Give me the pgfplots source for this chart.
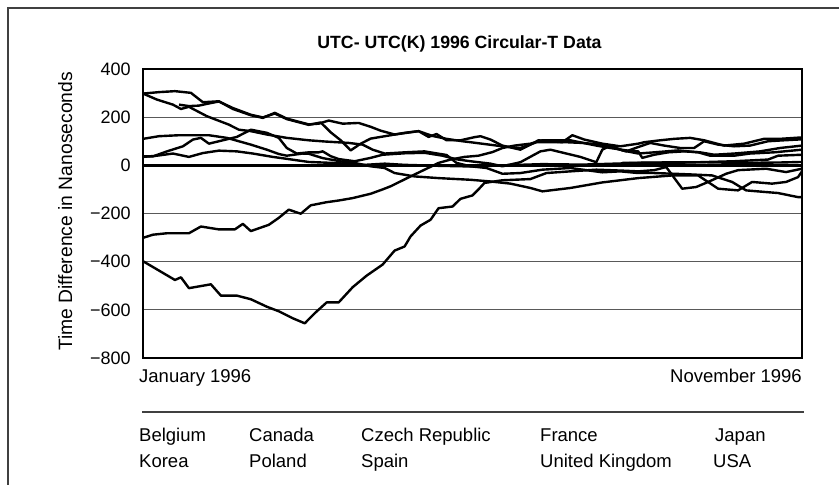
\documentclass[border=0pt]{standalone}
\usepackage{fontspec}
\setmainfont{Liberation Sans}
\usepackage{pgfplots}
\pgfplotsset{compat=1.18}
\begin{document}
\fontsize{18.5bp}{21bp}\selectfont
\begin{tikzpicture}
\useasboundingbox (0bp,0bp) rectangle (839bp,485bp);
\draw[line width=1.2bp, black!75] (8bp,0bp) -- (8bp,477bp) -- (839bp,477bp);
\begin{axis}[
 at={(143bp,127bp)}, anchor=south west,
 scale only axis, width=659bp, height=289bp,
 xmin=0, xmax=330, ymin=-800, ymax=400,
 xtick=\empty,
 ytick={-800,-600,-400,-200,0,200,400},
 yticklabels={−800,−600,−400,−200,0,200,400},
 major tick length=0pt,
 yticklabel style={font=\fontsize{18bp}{21bp}\selectfont, xshift=-6bp},
 ymajorgrids, grid style={line width=1.3bp, black!65},
 axis line style={line width=2.5bp},
 every axis plot post/.append style={black, solid, line width=2.4bp, line join=round, mark=none},
]
% zero line
\addplot coordinates {(0,0) (330,0)};
% series 1
\addplot table {
0 298
8 304
16 308
24 301
30 262
38 266
45 234
54 208
60 197
66 218
72 194
83 170
88 173
93 186
100 173
108 176
114 160
119 144
126 128
138 142
143 118
147 130
152 104
159 104
166 117
169 121
174 107
180 82
189 65
195 90
198 104
204 100
210 96
215 125
221 107
230 90
239 79
248 90
251 96
259 104
266 110
274 114
281 104
291 82
301 90
311 110
319 110
330 116
};
% series 2
\addplot table {
0 298
7 273
15 252
19 234
23 243
32 204
43 169
48 148
54 142
62 128
72 114
83 104
91 99
103 93
110 86
115 65
121 49
131 54
141 58
146 51
152 43
157 10
164 -4
172 -11
180 -35
189 -32
200 -18
214 -11
230 -29
239 -25
248 -32
256 -32
266 -35
275 -38
285 -42
295 -69
302 -104
312 -111
318 -115
328 -132
330 -132
};
% series 3
\addplot table {
0 110
8 121
18 125
33 125
42 114
48 100
54 86
62 65
68 47
72 40
80 49
83 48
90 30
100 15
106 10
114 -4
121 -11
126 -32
136 -46
148 -53
164 -60
174 -67
184 -76
194 -94
200 -108
214 -94
230 -71
248 -53
265 -42
278 -42
288 -97
298 -104
305 -69
315 -76
322 -69
328 -49
330 -25
};
% series 4
\addplot table {
0 37
5 37
12 58
20 79
25 107
29 114
33 90
38 100
47 118
54 148
62 135
68 114
72 72
77 49
83 54
88 54
90 58
94 38
98 26
106 17
114 31
120 44
131 50
141 52
150 40
157 25
164 17
174 7
180 -4
189 13
199 58
204 65
212 49
219 35
227 13
230 65
234 82
240 62
248 49
256 54
268 62
278 54
284 40
296 40
304 49
316 54
330 65
};
% series 5
\addplot table {
0 35
7 40
15 49
23 35
30 51
38 61
47 58
55 49
65 35
72 27
83 14
95 10
111 2
121 7
131 2
148 -2
166 -5
180 0
200 5
220 3
240 8
248 10
263 10
279 13
296 17
313 24
318 40
330 44
};
% series 6
\addplot table {
0 -301
5 -288
12 -282
23 -282
29 -254
38 -266
46 -266
50 -243
54 -273
63 -247
68 -218
73 -184
79 -201
84 -166
92 -153
98 -146
105 -136
114 -118
120 -100
124 -87
134 -46
141 -18
148 10
154 24
161 35
168 40
175 55
180 72
186 82
194 90
200 104
214 104
227 82
234 72
242 62
248 58
250 31
256 44
263 54
271 58
279 54
286 44
296 49
309 58
319 72
330 82
};
% series 7
\addplot table {
0 -398
8 -437
16 -476
19 -465
23 -510
34 -494
39 -541
47 -541
54 -556
62 -587
68 -606
75 -635
81 -656
86 -614
92 -569
98 -569
105 -506
112 -458
120 -412
126 -354
131 -337
134 -295
139 -250
144 -226
148 -178
155 -171
159 -139
165 -125
168 -100
171 -73
180 -62
194 -57
202 -32
214 -25
227 -18
240 -22
248 -25
256 -20
262 -7
270 -97
277 -90
283 -69
292 -35
298 -20
312 -14
322 -28
330 -14
};
% series 8
\addplot table {
18 252
23 246
28 248
33 257
38 265
45 238
54 210
60 199
66 215
72 192
83 168
89 178
94 137
99 104
104 62
109 90
114 111
124 125
131 135
138 142
145 122
152 110
160 100
164 96
180 79
189 72
197 96
212 96
220 93
230 86
242 58
248 76
254 93
261 82
269 72
276 72
281 100
288 86
296 79
304 82
313 100
321 104
330 108
};
% series 9
\addplot table {
240 10
260 12
280 13
300 10
320 12
330 14
};
\end{axis}
\node[anchor=base, inner sep=0pt, font=\bfseries\fontsize{17.7bp}{20bp}\selectfont] at (459.5bp,436bp) {UTC- UTC(K) 1996 Circular-T Data};
\node[rotate=90, anchor=base, inner sep=0pt, font=\fontsize{19.3bp}{22bp}\selectfont] at (72bp,273.5bp) {Time Difference in Nanoseconds};
\node[anchor=base west, inner sep=0pt] at (139bp,102bp) {January 1996};
\node[anchor=base east, inner sep=0pt] at (802bp,102bp) {November 1996};
\draw[line width=1.2bp, black!75] (142bp,73bp) -- (804bp,73bp);
\node[anchor=base west, inner sep=0pt] at (139bp,43bp) {Belgium};
\node[anchor=base west, inner sep=0pt] at (249bp,43bp) {Canada};
\node[anchor=base west, inner sep=0pt] at (361bp,43bp) {Czech Republic};
\node[anchor=base west, inner sep=0pt] at (540bp,43bp) {France};
\node[anchor=base west, inner sep=0pt] at (715bp,43bp) {Japan};
\node[anchor=base west, inner sep=0pt] at (139bp,18bp) {Korea};
\node[anchor=base west, inner sep=0pt] at (249bp,18bp) {Poland};
\node[anchor=base west, inner sep=0pt] at (361bp,18bp) {Spain};
\node[anchor=base west, inner sep=0pt] at (540bp,18bp) {United Kingdom};
\node[anchor=base west, inner sep=0pt] at (713bp,18bp) {USA};
\end{tikzpicture}
\end{document}
